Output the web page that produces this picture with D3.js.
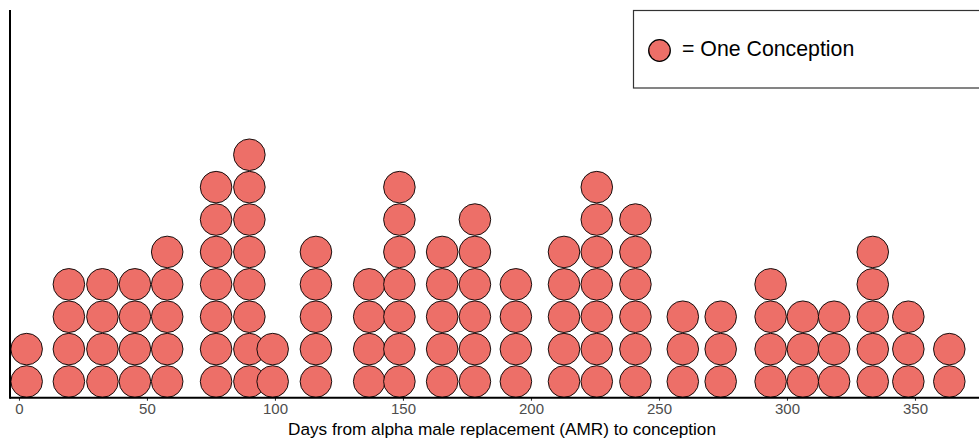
<!DOCTYPE html>
<html>
<head>
<meta charset="utf-8">
<script src="https://cdn.jsdelivr.net/npm/d3@7"></script>
<style>
  html, body { margin: 0; padding: 0; background: #ffffff; }
  svg { display: block; }
  text { font-family: "Liberation Sans", Arial, sans-serif; }
</style>
</head>
<body>
<svg id="chart" width="979" height="439"></svg>
<script>
// Bin centres (days from AMR to conception) and number of conceptions in each bin
const binDays = [3.0, 19.5, 32.6, 45.3, 57.9, 77.0, 90.0, 99.1, 116.0, 136.8,
                 148.6, 165.3, 178.1, 194.1, 212.9, 225.7, 240.8, 259.3, 274.1,
                 293.6, 306.2, 318.4, 333.5, 347.4, 363.4];
const binCounts = [2, 4, 4, 4, 5, 7, 8, 2, 5, 4,
                   7, 5, 6, 4, 5, 7, 6, 3, 3,
                   4, 3, 3, 5, 3, 2];
const xTicks = [0, 50, 100, 150, 200, 250, 300, 350];
const xTitle = "Days from alpha male replacement (AMR) to conception";
const legendLabel = "= One Conception";

const dotFill = "#ED6F68";
const svg = d3.select("#chart");

const panel = { left: 10, right: 979, top: 9, bottom: 397.7 };

const x = d3.scaleLinear().domain([-3.5, 375]).range([panel.left, panel.right]);
const y = d3.scaleLinear().domain([0, 12]).range([panel.bottom, panel.top]);
const rowH = y(0) - y(1);
const r = rowH / 2 - 0.4;

// One circle per conception, stacked upward from the axis
const dots = [];
binDays.forEach((d, i) => {
  for (let k = 0; k < binCounts[i]; k++) dots.push({ day: d, level: k });
});

svg.append("g")
  .selectAll("circle")
  .data(dots)
  .join("circle")
  .attr("cx", d => x(d.day))
  .attr("cy", d => y(d.level + 0.5))
  .attr("r", r)
  .attr("fill", dotFill)
  .attr("stroke", "#000")
  .attr("stroke-width", 0.9);

// x axis
const xAxis = svg.append("g")
  .attr("transform", `translate(0,${panel.bottom})`)
  .call(d3.axisBottom(x).tickValues(xTicks).tickSize(3).tickPadding(3).tickFormat(d3.format("d")));
xAxis.select(".domain").remove();
xAxis.selectAll(".tick line").attr("stroke", "#333").attr("stroke-width", 1.1);
xAxis.selectAll(".tick text")
  .attr("fill", "#4D4D4D")
  .style("font-size", "15px")
  .style("font-family", "'Liberation Sans', Arial, sans-serif");

// axis lines
svg.append("line")
  .attr("x1", panel.left).attr("x2", panel.right)
  .attr("y1", panel.bottom).attr("y2", panel.bottom)
  .attr("stroke", "#000").attr("stroke-width", 2);
svg.append("line")
  .attr("x1", panel.left).attr("x2", panel.left)
  .attr("y1", 10).attr("y2", panel.bottom + 1)
  .attr("stroke", "#000").attr("stroke-width", 2);

// x axis title
svg.append("text")
  .attr("x", 502)
  .attr("y", 435)
  .attr("text-anchor", "middle")
  .attr("fill", "#000")
  .style("font-size", "17.2px")
  .text(xTitle);

// legend
const legend = svg.append("g");
legend.append("rect")
  .attr("x", 633.5).attr("y", 10.5)
  .attr("width", 360).attr("height", 77.5)
  .attr("fill", "#fff")
  .attr("stroke", "#333")
  .attr("stroke-width", 1.2);
legend.append("circle")
  .attr("cx", 659.5).attr("cy", 50.5)
  .attr("r", 10.8)
  .attr("fill", dotFill)
  .attr("stroke", "#000")
  .attr("stroke-width", 1.3);
legend.append("text")
  .attr("x", 682)
  .attr("y", 55.5)
  .attr("fill", "#000")
  .style("font-size", "21.3px")
  .text(legendLabel);
</script>
</body>
</html>
